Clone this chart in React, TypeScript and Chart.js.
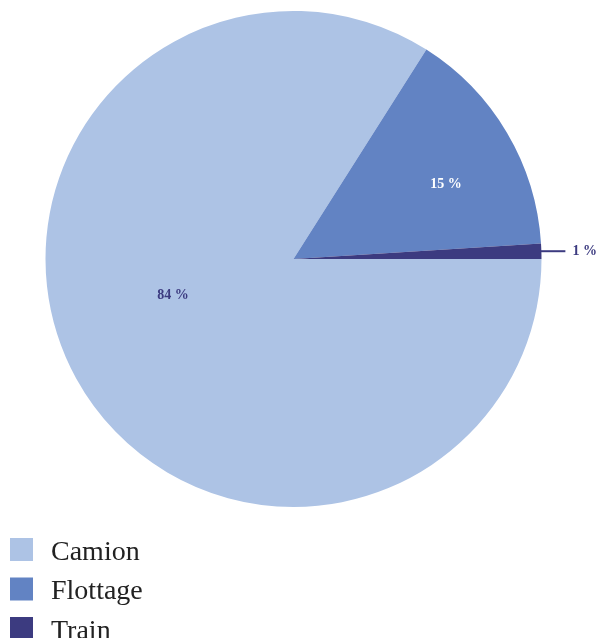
import React, { useEffect, useRef } from "react";
import { Chart, registerables } from "chart.js";

Chart.register(...registerables);

const categories = ["Camion", "Flottage", "Train"];
const shares = [84, 15, 1];
const valueLabels = ["84 %", "15 %", "1 %"];
const colors = ["#adc3e5", "#6283c3", "#3c3b80"];

const W = 597;
const H = 638;
const FONT = "'Liberation Serif', 'Times New Roman', serif";

const labelPlugin = {
  id: "sliceLabels",
  afterDatasetsDraw(chart: any) {
    const ctx = chart.ctx;
    const meta = chart.getDatasetMeta(0);
    const place = [
      { dA: 12.2, f: 0.507, color: "#3c3b80", outside: false },
      { dA: 4.4, f: 0.685, color: "#ffffff", outside: false },
      { dA: 0, f: 1, color: "#3c3b80", outside: true },
    ];
    ctx.save();
    meta.data.forEach((arc: any, i: number) => {
      const p = arc.getProps(["x", "y", "startAngle", "endAngle", "outerRadius"], true);
      const mid = (p.startAngle + p.endAngle) / 2 + (place[i].dA * Math.PI) / 180;
      ctx.font = `bold 14px ${FONT}`;
      ctx.fillStyle = place[i].color;
      ctx.textBaseline = "middle";
      if (!place[i].outside) {
        const r = p.outerRadius * place[i].f;
        ctx.textAlign = "center";
        ctx.fillText(valueLabels[i], p.x + Math.cos(mid) * r, p.y + Math.sin(mid) * r);
      } else {
        const x0 = p.x + Math.cos(mid) * p.outerRadius;
        const y0 = p.y + Math.sin(mid) * p.outerRadius;
        ctx.strokeStyle = place[i].color;
        ctx.lineWidth = 2;
        ctx.beginPath();
        ctx.moveTo(x0 - 1, y0);
        ctx.lineTo(x0 + 24, y0);
        ctx.stroke();
        ctx.textAlign = "left";
        ctx.fillText(valueLabels[i], x0 + 31, y0);
      }
    });
    ctx.restore();
  },
};

const legendPlugin = {
  id: "listLegend",
  afterDraw(chart: any) {
    const ctx = chart.ctx;
    ctx.save();
    categories.forEach((c, i) => {
      const top = 538 + i * 39.5;
      ctx.fillStyle = colors[i];
      ctx.fillRect(10, top, 23, 23);
      ctx.fillStyle = "#222222";
      ctx.font = `28px ${FONT}`;
      ctx.textAlign = "left";
      ctx.textBaseline = "alphabetic";
      ctx.fillText(c, 51, top + 21.5);
    });
    ctx.restore();
  },
};

export default function App() {
  const ref = useRef<HTMLCanvasElement>(null);
  useEffect(() => {
    if (!ref.current) return;
    const chart = new Chart(ref.current, {
      type: "pie",
      data: {
        labels: categories,
        datasets: [
          {
            data: shares,
            backgroundColor: colors,
            borderWidth: 0,
          },
        ],
      },
      options: {
        responsive: false,
        animation: false,
        rotation: 90,
        layout: { padding: { left: 45.5, right: 55.5, top: 11, bottom: 131 } },
        plugins: {
          legend: { display: false },
          tooltip: { enabled: false },
          title: { display: false },
        },
      },
      plugins: [labelPlugin, legendPlugin],
    });
    return () => chart.destroy();
  }, []);
  return (
    <div style={{ position: "absolute", left: 0, top: 0, width: W, height: H, background: "#fff" }}>
      <canvas ref={ref} width={W} height={H} style={{ display: "block", width: W, height: H }} />
    </div>
  );
}
